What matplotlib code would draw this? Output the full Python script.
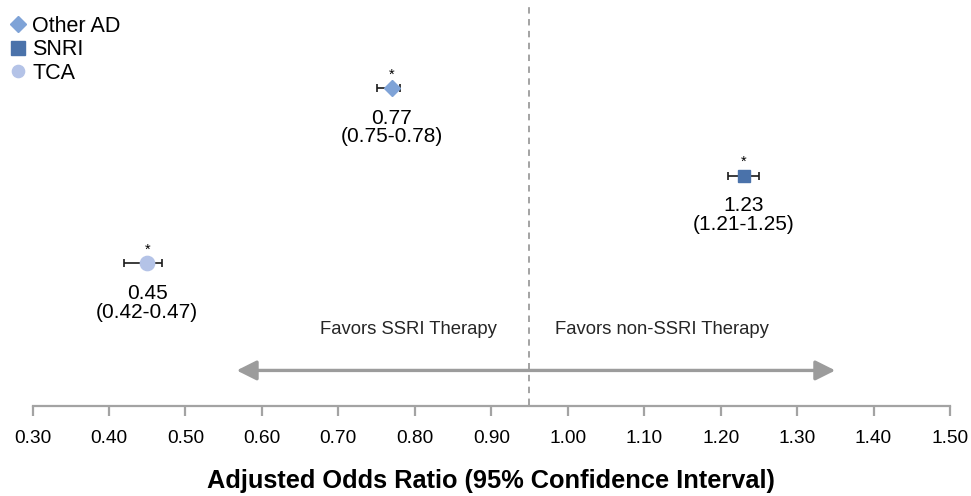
import matplotlib
matplotlib.use("Agg")
import matplotlib.pyplot as plt
from matplotlib.lines import Line2D

plt.rcParams['font.family'] = ['Liberation Sans', 'DejaVu Sans']

# data
groups = ['Other AD', 'SNRI', 'TCA']
odds = [0.77, 1.23, 0.45]
ci_low = [0.75, 1.21, 0.42]
ci_high = [0.78, 1.25, 0.47]
rows = [3, 2, 1]
markers = ['D', 's', 'o']
sizes = [8.4, 9.2, 10.3]
legend_sizes = [8.6, 9.4, 8.8]
colors = ['#7fa3d7', '#4a72aa', '#b4c3e7']
ref_line = 0.95
x_ticks = [0.30, 0.40, 0.50, 0.60, 0.70, 0.80, 0.90, 1.00, 1.10, 1.20, 1.30, 1.40, 1.50]
arrow_from, arrow_to = 0.567, 1.35

gray = '#a3a3a3'

fig = plt.figure(figsize=(9.71, 4.96), dpi=100)
ax = fig.add_axes([32.5 / 971, 1 - 405.5 / 496, (950 - 32.5) / 971, 405.5 / 496])
ax.set_xlim(0.30, 1.50)
ax.set_ylim(-0.62, 4.006)

for g, x, lo, hi, y, m, s, c in zip(groups, odds, ci_low, ci_high, rows, markers, sizes, colors):
    ax.errorbar(x, y, xerr=[[x - lo], [hi - x]], fmt='none', ecolor='#1a1a1a',
                elinewidth=1.2, capsize=3.0, capthick=1.2, zorder=2)
    ax.plot(x, y, marker=m, markersize=s, color=c, linestyle='none', zorder=3)
    ax.annotate('*', (x, y), xytext=(0, 7), textcoords='offset points',
                ha='center', va='baseline', fontsize=10.5)
    ax.annotate(f'{x:.2f}', (x, y), xytext=(0, -21.5), textcoords='offset points',
                ha='center', va='center', fontsize=15)
    ax.annotate(f'({lo:.2f}-{hi:.2f})', (x, y), xytext=(0, -35), textcoords='offset points',
                ha='center', va='center', fontsize=15)

# reference line
ax.vlines(ref_line, -0.62, 3.95, colors=gray, linestyles=(0, (3.3, 2.8)), linewidth=1.4, zorder=1)

# favors arrow
ax.annotate('', xy=(arrow_from, -0.22), xytext=(arrow_to, -0.22),
            arrowprops=dict(arrowstyle='<|-|>', color='#9c9c9c', lw=2.4,
                            mutation_scale=30, shrinkA=0, shrinkB=0))
ax.text(ref_line - 0.043, 0.246, 'Favors SSRI Therapy', ha='right', va='center', fontsize=13.3, color='#262626')
ax.text(ref_line + 0.033, 0.246, 'Favors non-SSRI Therapy', ha='left', va='center', fontsize=13.3, color='#262626')

# axis styling
for sp in ['top', 'right', 'left']:
    ax.spines[sp].set_visible(False)
ax.spines['bottom'].set_color(gray)
ax.spines['bottom'].set_linewidth(1.6)
ax.set_yticks([])
ax.set_xticks(x_ticks)
ax.set_xticklabels([f'{t:.2f}' for t in x_ticks], fontsize=13.8)
ax.tick_params(axis='x', direction='out', length=7.5, width=1.6, color=gray, pad=10)
ax.set_xlabel('Adjusted Odds Ratio (95% Confidence Interval)', fontsize=18.3,
              fontweight='bold', labelpad=16)

# legend
handles = [Line2D([], [], marker=m, markersize=s, color=c, linestyle='none')
           for m, s, c in zip(markers, legend_sizes, colors)]
fig.legend(handles, groups, loc='upper left', bbox_to_anchor=(9.4 / 971, 0.968), frameon=False,
           fontsize=15.5, handlelength=0.8, handletextpad=0.25, labelspacing=0.11,
           borderpad=0, borderaxespad=0)

fig.savefig('out.png', dpi=100)
